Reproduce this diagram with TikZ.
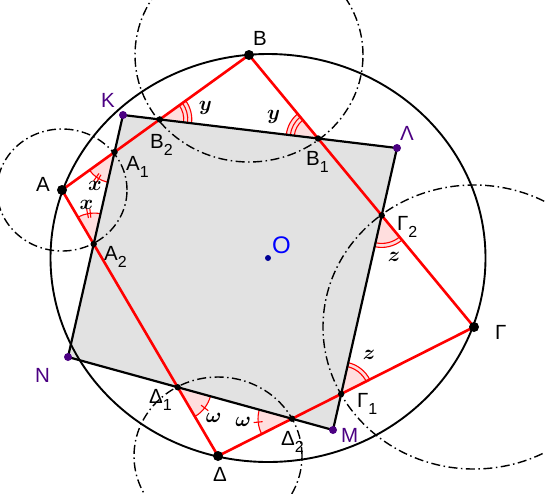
\documentclass[tikz,border=0pt]{standalone}
\usepackage{fontspec}
\setsansfont{Liberation Sans}
\usetikzlibrary{calc}
\definecolor{purp}{RGB}{75,0,130}
\definecolor{pinkf}{RGB}{255,222,222}
\definecolor{grayf}{RGB}{226,226,226}
\definecolor{odot}{RGB}{0,0,150}
\definecolor{oblue}{RGB}{0,0,255}
\newcommand\sub[2]{#1\raisebox{-7.5pt}{\fontsize{16}{16}\selectfont #2}}
% angle mark: #1 vertex, #2 first point, #3 second point, #4 radius, #5 number of arcs, #6 number of ticks
\newcommand\angmark[6]{%
  \pgfmathanglebetweenpoints{\pgfpointanchor{#1}{center}}{\pgfpointanchor{#2}{center}}%
  \edef\amA{\pgfmathresult}%
  \pgfmathanglebetweenpoints{\pgfpointanchor{#1}{center}}{\pgfpointanchor{#3}{center}}%
  \edef\amB{\pgfmathresult}%
  \pgfmathsetmacro\amD{mod(\amB-\amA+540,360)-180}%
  \fill[pinkf] (#1) -- ++(\amA:#4pt) arc[start angle=\amA, delta angle=\amD, radius=#4pt] -- cycle;
  \foreach \k in {1,...,#5}{%
    \pgfmathsetmacro\rr{#4-(\k-1)*4}%
    \draw[markline] (#1) ++(\amA:\rr pt) arc[start angle=\amA, delta angle=\amD, radius=\rr pt];
  }%
  \ifnum#6>0
  \foreach \t in {1,...,#6}{%
    \pgfmathsetmacro\ta{\amA+\amD/2+(\t-(#6+1)/2)*(2.8/#4)*57.3}%
    \draw[markline] (#1) ++(\ta:#4pt-4.5pt) -- ++(\ta:9pt);
  }%
  \fi
}
\begin{document}
\begin{tikzpicture}[x=1pt,y=-1pt,
  redl/.style={red, line width=2.6pt, line join=round},
  blkl/.style={black, line width=2.2pt, line join=round},
  dd/.style={black, line width=1.4pt, dash pattern=on 9pt off 3.5pt on 1.5pt off 3.5pt},
  markline/.style={red, line width=1.1pt},
  lab/.style={font=\fontsize{20.5}{20.5}\selectfont\sffamily, inner sep=0pt, anchor=base west},
  glab/.style={font=\fontsize{22}{22}\selectfont\boldmath, inner sep=0pt},
]
\useasboundingbox (0,0) rectangle (545,493);
\clip (0,0) rectangle (545,493);
% points
\coordinate (O) at (268,258);
\coordinate (A) at (62,190);
\coordinate (B) at (249,55);
\coordinate (G) at (474,327);
\coordinate (D) at (218,456);
\coordinate (K) at (123,115);
\coordinate (L) at (397,148);
\coordinate (M) at (333,430);
\coordinate (N) at (68,357);
\coordinate (A1) at (intersection of A--B and K--N);
\coordinate (A2) at (intersection of A--D and K--N);
\coordinate (B2) at (intersection of A--B and K--L);
\coordinate (B1) at (intersection of B--G and K--L);
\coordinate (G2) at (intersection of B--G and L--M);
\coordinate (G1) at (intersection of G--D and L--M);
\coordinate (D2) at (intersection of G--D and M--N);
\coordinate (D1) at (intersection of D--A and M--N);
% gray quadrilateral
\fill[grayf] (K) -- (L) -- (M) -- (N) -- cycle;
% angle marks
\angmark{A1}{A}{A2}{31}{1}{2}
\angmark{A2}{A}{A1}{31}{1}{2}
\angmark{B2}{B}{B1}{32}{3}{0}
\angmark{B1}{B}{B2}{32}{3}{0}
\angmark{G2}{G}{G1}{32}{2}{0}
\angmark{G1}{G}{G2}{32}{2}{0}
\angmark{D1}{D}{D2}{34}{1}{1}
\angmark{D2}{D}{D1}{34}{1}{1}
% dash-dot circles
\draw[dd] (A) ellipse[x radius=65pt, y radius=61pt];
\draw[dd] (B) ellipse[x radius=114pt, y radius=107pt];
\draw[dd] (G) ellipse[x radius=151pt, y radius=142pt];
\draw[dd] (D) ellipse[x radius=84pt, y radius=79pt];
% main circle
\draw[black, line width=1.9pt] (O) ellipse[x radius=217.5pt, y radius=204pt];
% red square
\draw[redl] (A) -- (B) -- (G) -- (D) -- cycle;
% black quadrilateral
\draw[blkl] (K) -- (L) -- (M) -- (N) -- cycle;
% dots
\foreach \p in {A,B,G,D} \fill[black] (\p) circle[radius=5pt];
\foreach \p in {A1,A2,B1,B2,G1,G2,D1,D2} \fill[black] (\p) circle[radius=3.2pt];
\foreach \p in {K,L,M,N} \fill[purp] (\p) circle[radius=4pt];
\fill[odot] (O) circle[radius=3pt];
% labels
\node[lab] (tB) at (253,45) {B};
\node[lab] (tA) at (36,191) {A};
\node[lab] (tG) at (495,339) {Γ};
\node[lab] (tD) at (213,481) {Δ};
\node[lab,text=purp] (tK) at (101,107) {K};
\node[lab,text=purp] (tL) at (400,140) {Λ};
\node[lab,text=purp] (tM) at (341,442) {M};
\node[lab,text=purp] (tN) at (35,382) {N};
\node[lab] (tA1) at (126,170) {\sub{A}{1}};
\node[lab] (tA2) at (104,260) {\sub{A}{2}};
\node[lab] (tB2) at (150,148) {\sub{B}{2}};
\node[lab] (tB1) at (306,165) {\sub{B}{1}};
\node[lab] (tG2) at (397,230) {\sub{Γ}{2}};
\node[lab] (tG1) at (357,407) {\sub{Γ}{1}};
\node[lab] (tD1) at (149,403) {\sub{Δ}{1}};
\node[lab] (tD2) at (281,445) {\sub{Δ}{2}};
\node[lab,text=oblue,font=\fontsize{24}{24}\selectfont\sffamily] (tO) at (272,253) {O};
% angle labels
\node[glab] (x1) at (95,186) {$x$};
\node[glab] (x2) at (86.5,204.5) {$x$};
\node[glab] (y1) at (205.5,107.5) {$y$};
\node[glab] (y2) at (273.5,116.5) {$y$};
\node[glab] (z1) at (394,256.7) {$z$};
\node[glab] (z2) at (369,354.7) {$z$};
\node[glab] (w1) at (213.8,417.7) {$\omega$};
\node[glab] (w2) at (243.3,421.7) {$\omega$};
\end{tikzpicture}
\end{document}
